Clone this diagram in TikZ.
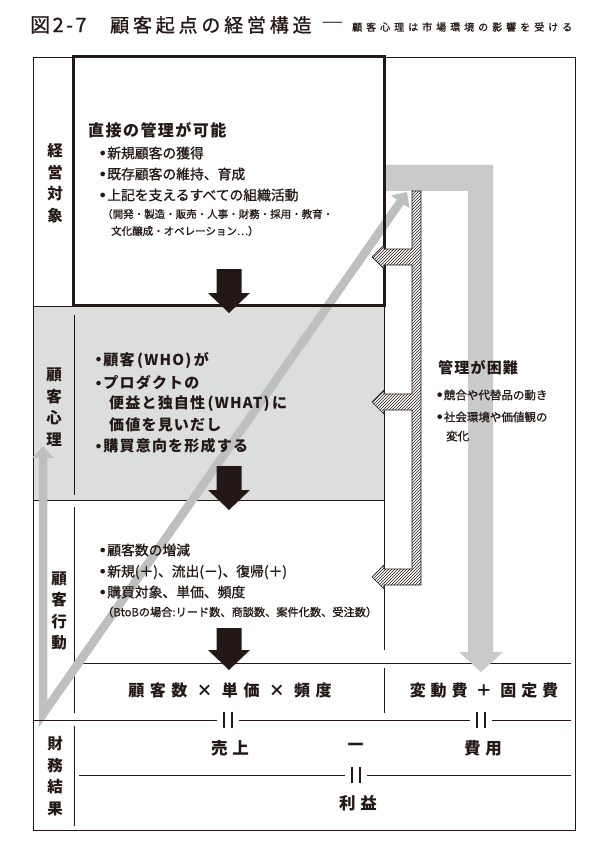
\documentclass[tikz,border=0pt]{standalone}
\usepackage{fontspec}
\setmainfont{Noto Sans CJK JP}
\usetikzlibrary{patterns}
\definecolor{ink}{HTML}{231815}
\definecolor{bggray}{HTML}{DCDDDD}
\definecolor{vgray}{HTML}{BEBFBF}
\definecolor{bgarrow}{HTML}{C9CACA}
\newcommand{\fs}[2]{\fontsize{#1}{#2}\selectfont}
\newcommand{\ls}[1]{\addfontfeature{LetterSpace=#1}}
\newcommand{\fb}{\addfontfeature{FakeBold=0.9}}
\newcommand{\bul}{\raisebox{0.24em}{\fontsize{5}{5}\selectfont ●}\hspace{0.15em}}
\newcommand{\darr}[3]{\fill[ink] (#1-12.5,#2) -- (#1+12.5,#2) -- (#1+12.5,#3-20) -- (#1+21,#3-20) -- (#1,#3) -- (#1-21,#3-20) -- (#1-12.5,#3-20) -- cycle;}
\newcommand{\eqmark}[2]{\fill[white] (#1-11,#2-2) rectangle (#1+11,#2+2);
  \draw[ink,line width=2.2pt] (#1-3.8,#2-8) -- (#1-3.8,#2+8) (#1+3.8,#2-8) -- (#1+3.8,#2+8);}
\begin{document}
\begin{tikzpicture}[x=1pt,y=-1pt,
  txt/.style={inner sep=0pt, text=ink, anchor=west},
  ctxt/.style={inner sep=0pt, text=ink, anchor=center},
  thinln/.style={draw=ink, line width=0.8pt},
  lbl/.style={inner sep=0pt, text=ink, align=center, font=\fs{15.5}{21.5}\bfseries}]
\useasboundingbox (0,0) rectangle (598,850);
\fill[white] (0,0) rectangle (598,850);

% title
\node[txt, font=\fs{20}{20}\ls{12}\fb] (t1) at (30,25) {図2-7};
\node[txt, font=\fs{19}{19}\ls{20}\fb] (t2) at (110,25) {顧客起点の経営構造};
\node[txt, font=\fs{23}{23}] (t3) at (321,27) {―};
\node[txt, font=\fs{10}{10}\ls{40}\fb] (t4) at (352,27) {顧客心理は市場環境の影響を受ける};

% backgrounds and frame
\fill[bggray] (33,306) rectangle (384,500);
\draw[thinln] (33,57) rectangle (575,830);

% thin rules
\draw[thinln] (33,306) -- (384,306);
\draw[thinln] (33,500) -- (384,500);
\draw[thinln] (384,306) -- (384,650);
\draw[thinln] (384,668) -- (384,713);
\draw[thinln] (79,663) -- (571,663);
\draw[thinln] (79,775) -- (571,775);
\draw[thinln] (74,315) -- (74,495);
\draw[thinln] (74,507) -- (74,713);
\draw[thinln] (74,726) -- (74,826);

% gray V arrows
\draw[vgray, line width=8.5pt, line join=miter, miter limit=10] (43,457) -- (43,714) -- (401,201);
\fill[vgray] (32,458) -- (54,458) -- (43,446) -- cycle;
\fill[vgray] (407,192) -- (409.5,208.5) -- (391,195.5) -- cycle;

\draw[thinln] (33,720) -- (571,720);

% big gray arrow on the right
\fill[bgarrow] (385,165) -- (493,165) -- (493,652) -- (503,652) -- (481,672) -- (459,652) -- (468,652) -- (468,191) -- (385,191) -- cycle;

% top box
\draw[ink, line width=3.5pt] (73.5,56.5) rectangle (384.5,305.5);

% hatched bracket
\path[preaction={fill=white}, pattern=north east lines, pattern color=ink, draw=ink, line width=0.7pt]
  (412,191) -- (421,191) -- (421,585) -- (384,585) -- (384,589) -- (372,577) -- (384,565) -- (384,569)
  -- (412,569) -- (412,410) -- (384,410) -- (384,414) -- (372,402) -- (384,390) -- (384,394)
  -- (412,394) -- (412,265) -- (384,265) -- (384,269) -- (372,257) -- (384,245) -- (384,249)
  -- (412,249) -- cycle;

% black arrows
\darr{229}{269}{313}
\darr{229}{466}{510}
\darr{229}{628}{670}

% equal marks
\eqmark{228}{720}
\eqmark{481}{720}
\eqmark{356}{775}

% labels
\node[lbl] (l1) at (55,183) {経\\営\\対\\象};
\node[lbl] (l2) at (54,407) {顧\\客\\心\\理};
\node[lbl] (l3) at (59,611) {顧\\客\\行\\動};
\node[lbl] (l4) at (55,776) {財\\務\\結\\果};

% top box text
\node[txt, font=\fs{16}{16}\bfseries\ls{9}] (a0) at (88,130) {直接の管理が可能};
\node[txt, font=\fs{13.8}{14}\fb] (a1) at (100,153) {\bul 新規顧客の獲得};
\node[txt, font=\fs{13.8}{14}\fb] (a2) at (100,174) {\bul 既存顧客の維持、育成};
\node[txt, font=\fs{13.8}{14}\fb] (a3) at (100,195) {\bul 上記を支えるすべての組織活動};
\node[txt, font=\fs{10.5}{11}\fb] (a4) at (102,214) {（開発・製造・販売・人事・財務・採用・教育・};
\node[txt, font=\fs{10.5}{11}\fb] (a5) at (111,231) {文化醸成・オペレーション…）};

% psychology text
\node[txt, font=\fs{15}{15}\bfseries\ls{8}] (b1) at (96,360) {\bul 顧客\,(WHO)\,が};
\node[txt, font=\fs{15}{15}\bfseries\ls{8}] (b2) at (96,383) {\bul プロダクトの};
\node[txt, font=\fs{15}{15}\bfseries\ls{8}] (b3) at (109,404) {便益と独自性\,(WHAT)\,に};
\node[txt, font=\fs{15}{15}\bfseries\ls{8}] (b4) at (109,425) {価値を見いだし};
\node[txt, font=\fs{15}{15}\bfseries\ls{8}] (b5) at (96,446) {\bul 購買意向を形成する};

% behaviour text
\node[txt, font=\fs{13.8}{14}\fb] (c1) at (100,550) {\bul 顧客数の増減};
\node[txt, font=\fs{13.8}{14}\fb] (c2) at (100,572) {\bul 新規(＋)、流出(－)、復帰(＋)};
\node[txt, font=\fs{13.8}{14}\fb] (c3) at (100,592) {\bul 購買対象、単価、頻度};
\node[txt, font=\fs{11.2}{12}\fb] (c4) at (102,612) {（BtoBの場合:リード数、商談数、案件化数、受注数）};

% right text
\node[txt, font=\fs{15}{15}\bfseries\ls{8}] (d0) at (438,368) {管理が困難};
\node[txt, font=\fs{11.5}{12}\fb] (d1) at (437,395) {\bul 競合や代替品の動き};
\node[txt, font=\fs{11.5}{12}\fb] (d2) at (437,417) {\bul 社会環境や価値観の};
\node[txt, font=\fs{11.5}{12}\fb] (d3) at (446,436) {変化};

% formula rows
\node[ctxt, font=\fs{16}{16}\bfseries\ls{35}] (f1) at (230,690) {顧客数 × 単価 × 頻度};
\node[ctxt, font=\fs{16}{16}\bfseries\ls{30}] (f2) at (484,690) {変動費 ＋ 固定費};
\node[ctxt, font=\fs{16.5}{16}\bfseries\ls{30}] (g1) at (230,748) {売上};
\node[ctxt, font=\fs{21}{16}\bfseries] (g2) at (356,748) {－};
\node[ctxt, font=\fs{16.5}{16}\bfseries\ls{30}] (g3) at (483,748) {費用};
\node[ctxt, font=\fs{16.5}{16}\bfseries\ls{30}] (g4) at (358,803) {利益};
\end{tikzpicture}
\end{document}
